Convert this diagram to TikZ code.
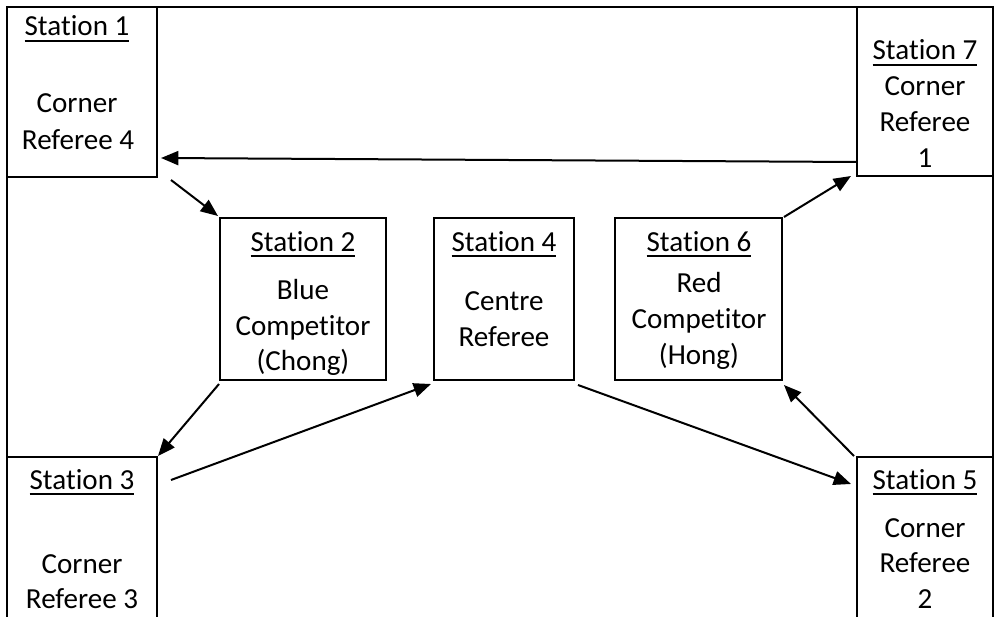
\documentclass[tikz,border=0pt]{standalone}
\usepackage{fontspec}
\setmainfont{Carlito}[Ligatures={NoCommon}]
\usetikzlibrary{fit,calc,arrows.meta}
\newcommand\ulx[1]{\setbox0\hbox{#1}\rlap{\rule[-4.6pt]{\wd0}{1.3pt}}\box0}
\begin{document}
\begin{tikzpicture}[x=0.75pt,y=-0.75pt,
  box/.style={draw, line width=1.5pt, inner sep=0pt},
  lbl/.style={anchor=base, inner sep=0pt, font=\fontsize{21.8}{26}\selectfont},
  arr/.style={line width=1.5pt, -{Triangle[length=13pt,width=10.5pt]}}]
\useasboundingbox (0,0) rectangle (997,617);
\clip (0,0) rectangle (997,617);
\fill[white] (0,0) rectangle (997,617);
% frame and boxes
\node[box, fit={(7,7)(993,640)}] (frame) {};
\node[box, fit={(7,7)(157,177)}] (s1) {};
\node[box, fit={(857,7)(993,176)}] (s7) {};
\node[box, fit={(7,457)(157,640)}] (s3) {};
\node[box, fit={(857,457)(993,640)}] (s5) {};
\node[box, fit={(220,218)(386,380)}] (s2) {};
\node[box, fit={(434,218)(574,380)}] (s4) {};
\node[box, fit={(615,218)(782,380)}] (s6) {};
% texts
\node[lbl] (t1a) at (77,36) {\ulx{Station 1}};
\node[lbl] (t1b) at (77,113) {Corner};
\node[lbl] (t1c) at (78,150) {Referee 4};
\node[lbl] (t7a) at (925,60) {\ulx{Station 7}};
\node[lbl] (t7b) at (925,96) {Corner};
\node[lbl] (t7c) at (925,132) {Referee};
\node[lbl] (t7d) at (925,167) {1};
\node[lbl] (t3a) at (82,489) {\ulx{Station 3}};
\node[lbl] (t3b) at (82,573) {Corner};
\node[lbl] (t3c) at (82,608) {Referee 3};
\node[lbl] (t5a) at (925,489) {\ulx{Station 5}};
\node[lbl] (t5b) at (925,537) {Corner};
\node[lbl] (t5c) at (925,572) {Referee};
\node[lbl] (t5d) at (925,608) {2};
\node[lbl] (t2a) at (303,251) {\ulx{Station 2}};
\node[lbl] (t2b) at (303,299) {Blue};
\node[lbl] (t2c) at (303,335) {Competitor};
\node[lbl] (t2d) at (303,370) {(Chong)};
\node[lbl] (t4a) at (504,251) {\ulx{Station 4}};
\node[lbl] (t4b) at (504,310) {Centre};
\node[lbl] (t4c) at (504,346) {Referee};
\node[lbl] (t6a) at (699,251) {\ulx{Station 6}};
\node[lbl] (t6b) at (699,292) {Red};
\node[lbl] (t6c) at (699,328) {Competitor};
\node[lbl] (t6d) at (699,364) {(Hong)};
% connectors
\draw[arr] ($(s7.south west)+(0,-15)$) -- ($(s1.south east)+(3,-20)$);
\draw[arr] ($(s1.south east)+(13,2)$) -- ($(s2.north west)+(-1,-1)$);
\draw[arr] ($(s2.south west)+(0,3)$) -- ($(s3.north east)+(0,0)$);
\draw[arr] ($(s3.north east)+(13,24)$) -- ($(s4.south west)+(-2,3)$);
\draw[arr] ($(s4.south east)+(3,4)$) -- ($(s5.north west)+(-5,28)$);
\draw[arr] ($(s5.north west)+(-2,0)$) -- ($(s6.south east)+(1,4)$);
\draw[arr] ($(s6.north east)+(1,0)$) -- ($(s7.south west)+(-5,-1)$);
\end{tikzpicture}
\end{document}
